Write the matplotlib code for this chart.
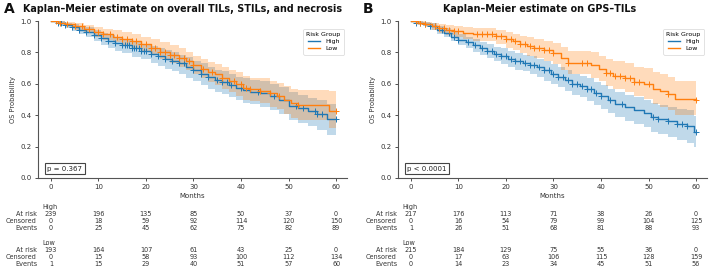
import numpy as np
import matplotlib
matplotlib.use("Agg")
import matplotlib.pyplot as plt
from matplotlib import transforms

# ---------------- data ----------------
months_ticks = [0, 10, 20, 30, 40, 50, 60]

# Panel A - High
tA_hi = [0, 1.5, 3, 4.5, 6, 7.5, 9, 10.5, 12, 13.5, 15, 17, 19, 21, 22.5, 24, 25.5, 27, 28.5, 30, 31.5,
         33, 34.5, 36, 37.5, 39, 40.5, 42, 44, 46, 48, 50, 52, 54, 56, 58]
sA_hi = [1.0, 0.99, 0.975, 0.96, 0.945, 0.93, 0.91, 0.89, 0.875, 0.86, 0.845, 0.825, 0.81, 0.79, 0.775,
         0.76, 0.745, 0.73, 0.71, 0.685, 0.665, 0.645, 0.625, 0.61, 0.59, 0.575, 0.56, 0.55, 0.54, 0.52,
         0.50, 0.46, 0.445, 0.425, 0.405, 0.375]
loA_hi = [1.0, 0.975, 0.955, 0.935, 0.915, 0.895, 0.87, 0.85, 0.83, 0.81, 0.795, 0.77, 0.755, 0.73, 0.715,
          0.695, 0.68, 0.66, 0.64, 0.615, 0.59, 0.57, 0.55, 0.535, 0.515, 0.495, 0.48, 0.47, 0.455, 0.435,
          0.41, 0.37, 0.35, 0.33, 0.305, 0.275]
upA_hi = [1.0, 0.997, 0.99, 0.98, 0.97, 0.96, 0.945, 0.925, 0.912, 0.9, 0.885, 0.87, 0.855, 0.84, 0.825,
          0.815, 0.8, 0.785, 0.77, 0.745, 0.73, 0.71, 0.69, 0.68, 0.66, 0.645, 0.635, 0.625, 0.615, 0.6,
          0.58, 0.545, 0.53, 0.51, 0.495, 0.47]
cA_hi = [1.5, 2.2, 3, 4.5, 6, 7.5, 9, 10.5, 12, 13.5, 15, 15.5, 16, 16.5, 17, 17.5, 18, 18.5, 19, 19.5, 20,
         21, 22.5, 24, 25.5, 27, 28, 30, 31.5, 33, 35, 36, 37, 38, 40, 43.5, 47, 51.5, 53, 55.5, 56, 57, 60]

# Panel A - Low
tA_lo = [0, 1.5, 3, 5, 7, 9, 11, 13, 15, 17, 19, 21, 23, 25, 27, 28.5, 30, 31.5, 33, 34.5, 36, 37.5, 39,
         40.5, 42, 44, 46, 47.5, 49, 50.5, 52, 58.5]
sA_lo = [1.0, 0.99, 0.98, 0.965, 0.95, 0.93, 0.915, 0.9, 0.885, 0.87, 0.855, 0.83, 0.805, 0.785, 0.765,
         0.745, 0.72, 0.695, 0.675, 0.66, 0.64, 0.615, 0.6, 0.575, 0.565, 0.555, 0.54, 0.525, 0.5, 0.475,
         0.465, 0.425]
loA_lo = [1.0, 0.98, 0.965, 0.945, 0.925, 0.9, 0.88, 0.865, 0.845, 0.83, 0.81, 0.785, 0.76, 0.735, 0.71,
          0.685, 0.66, 0.635, 0.61, 0.59, 0.57, 0.545, 0.525, 0.5, 0.49, 0.475, 0.455, 0.44, 0.41, 0.385,
          0.37, 0.32]
upA_lo = [1.0, 0.997, 0.992, 0.985, 0.975, 0.96, 0.95, 0.94, 0.93, 0.915, 0.9, 0.885, 0.865, 0.845, 0.825,
          0.805, 0.78, 0.76, 0.74, 0.725, 0.71, 0.69, 0.675, 0.65, 0.64, 0.635, 0.62, 0.605, 0.585, 0.565,
          0.56, 0.555]
cA_lo = [1, 2, 3.5, 5, 6.5, 8, 10, 11, 12.5, 14, 15, 16, 17, 18, 19, 20, 21, 22, 23, 24, 25, 26, 27, 28,
         29, 30, 32, 34, 36, 38.5, 40, 41, 42, 44, 46, 48, 52, 60]

# Panel B - High
tB_hi = [0, 1, 2.5, 4, 5.5, 7, 8.5, 10, 11.5, 13, 14.5, 16, 17.5, 19, 20.5, 22, 23.5, 25, 26.5, 28, 29.5,
         31, 32.5, 34, 35.5, 37, 38.5, 40, 41.5, 43, 45, 47, 49, 50.5, 52, 54, 56, 58, 59.5]
sB_hi = [1.0, 0.99, 0.98, 0.965, 0.945, 0.925, 0.9, 0.88, 0.865, 0.845, 0.825, 0.81, 0.79, 0.775, 0.76,
         0.745, 0.735, 0.72, 0.705, 0.685, 0.665, 0.645, 0.625, 0.6, 0.585, 0.565, 0.54, 0.52, 0.495, 0.47,
         0.45, 0.435, 0.415, 0.39, 0.375, 0.36, 0.345, 0.33, 0.295]
loB_hi = [1.0, 0.98, 0.965, 0.945, 0.92, 0.895, 0.87, 0.845, 0.83, 0.805, 0.785, 0.765, 0.745, 0.725, 0.71,
          0.69, 0.68, 0.66, 0.645, 0.62, 0.6, 0.58, 0.555, 0.53, 0.515, 0.49, 0.465, 0.44, 0.415, 0.39,
          0.365, 0.345, 0.325, 0.295, 0.28, 0.26, 0.245, 0.225, 0.195]
upB_hi = [1.0, 0.998, 0.993, 0.985, 0.97, 0.955, 0.935, 0.915, 0.9, 0.885, 0.865, 0.855, 0.835, 0.825, 0.81,
          0.795, 0.785, 0.775, 0.76, 0.745, 0.725, 0.71, 0.69, 0.665, 0.65, 0.635, 0.61, 0.595, 0.57, 0.55,
          0.53, 0.515, 0.5, 0.475, 0.465, 0.45, 0.44, 0.43, 0.395]
cB_hi = [1, 2, 3, 4, 5, 6.5, 8, 9, 10, 12, 13.5, 15, 16, 17, 18, 19, 20, 21, 22, 23, 24, 25, 26, 27, 28,
         29, 30, 31, 32, 33, 34, 35, 36, 37, 38, 39, 40, 42, 44.5, 51, 52, 54, 56, 57, 58, 60]

# Panel B - Low
tB_lo = [0, 1.5, 3, 4.5, 6, 7.5, 9, 11, 13, 15, 18, 20, 21.5, 23, 24.5, 26, 28, 30, 31.5, 33, 38, 39.5,
         41, 42.5, 45, 47, 49, 51, 52.5, 54, 55.5, 60]
sB_lo = [1.0, 0.99, 0.98, 0.97, 0.955, 0.945, 0.935, 0.925, 0.92, 0.915, 0.905, 0.885, 0.87, 0.855, 0.84,
         0.83, 0.815, 0.795, 0.765, 0.735, 0.72, 0.695, 0.67, 0.65, 0.64, 0.61, 0.6, 0.57, 0.555, 0.535,
         0.505, 0.495]
loB_lo = [1.0, 0.975, 0.96, 0.945, 0.925, 0.91, 0.9, 0.885, 0.875, 0.87, 0.855, 0.83, 0.815, 0.795, 0.78,
          0.765, 0.745, 0.725, 0.69, 0.66, 0.64, 0.615, 0.585, 0.565, 0.55, 0.52, 0.505, 0.47, 0.45, 0.43,
          0.4, 0.38]
upB_lo = [1.0, 0.998, 0.995, 0.99, 0.98, 0.975, 0.967, 0.96, 0.957, 0.953, 0.945, 0.93, 0.92, 0.905, 0.895,
          0.885, 0.875, 0.86, 0.835, 0.81, 0.8, 0.78, 0.76, 0.745, 0.735, 0.71, 0.7, 0.675, 0.66, 0.645,
          0.615, 0.605]
cB_lo = [1, 2, 3, 5, 6, 7, 8, 9, 10, 14, 15, 16, 17, 18, 19, 20, 21, 22, 23, 24, 25, 26, 27, 28, 29, 30,
         33, 36, 37, 41, 42, 43, 44, 45, 46, 47, 48, 50, 54, 60]

# risk tables
A_hi_risk = [239, 196, 135, 85, 50, 37, 0]
A_hi_cens = [0, 18, 59, 92, 114, 120, 150]
A_hi_evt = [0, 25, 45, 62, 75, 82, 89]
A_lo_risk = [193, 164, 107, 61, 43, 25, 0]
A_lo_cens = [0, 15, 58, 93, 100, 112, 134]
A_lo_evt = [1, 15, 29, 40, 51, 57, 60]

B_hi_risk = [217, 176, 113, 71, 38, 26, 0]
B_hi_cens = [0, 16, 54, 79, 99, 104, 125]
B_hi_evt = [1, 26, 51, 68, 81, 88, 93]
B_lo_risk = [215, 184, 129, 75, 55, 36, 0]
B_lo_cens = [0, 17, 63, 106, 115, 128, 159]
B_lo_evt = [0, 14, 23, 34, 45, 51, 56]

titles = ["Kaplan\u2013Meier estimate on overall TILs, STILs, and necrosis",
          "Kaplan\u2013Meier estimate on GPS\u2013TILs"]
letters = ["A", "B"]
pvals = ["p = 0.367", "p < 0.0001"]

BLUE = "#1f77b4"
ORANGE = "#ff7f0e"
W, H = 709, 269

fig = plt.figure(figsize=(W / 100, H / 100), dpi=100)
plt.rcParams['font.family'] = ['DejaVu Sans']


def km(ax, t, s, lo, up, cens, color, label):
    t = np.asarray(t, float); s = np.asarray(s, float)
    lo = np.asarray(lo, float); up = np.asarray(up, float)
    tt = np.append(t, 60.0)
    ss = np.append(s, s[-1])
    ll = np.append(lo, lo[-1]); uu = np.append(up, up[-1])
    ax.fill_between(tt, ll, uu, step='post', color=color, alpha=0.28, lw=0)
    ax.step(tt, ss, where='post', color=color, lw=1.0, label=label)
    c = np.asarray(cens, float)
    idx = np.searchsorted(t, c, side='right') - 1
    ax.plot(c, s[idx], ls='none', marker='+', ms=4.5, mew=0.7, color=color)


panels = [
    dict(left=38, hi=(tA_hi, sA_hi, loA_hi, upA_hi, cA_hi), lo=(tA_lo, sA_lo, loA_lo, upA_lo, cA_lo),
         tab=[("High", A_hi_risk, A_hi_cens, A_hi_evt), ("Low", A_lo_risk, A_lo_cens, A_lo_evt)],
         title_x=183, letter_x=4),
    dict(left=398, hi=(tB_hi, sB_hi, loB_hi, upB_hi, cB_hi), lo=(tB_lo, sB_lo, loB_lo, upB_lo, cB_lo),
         tab=[("High", B_hi_risk, B_hi_cens, B_hi_evt), ("Low", B_lo_risk, B_lo_cens, B_lo_evt)],
         title_x=540, letter_x=363),
]

for i, p in enumerate(panels):
    ax = fig.add_axes([p['left'] / W, 1 - 178 / H, 309 / W, 157 / H])
    km(ax, *p['hi'], BLUE, "High")
    km(ax, *p['lo'], ORANGE, "Low")
    ax.set_xlim(-2.7, 62.3)
    ax.set_ylim(0, 1.0)
    ax.set_xticks(months_ticks)
    ax.set_yticks([0.0, 0.2, 0.4, 0.6, 0.8, 1.0])
    ax.set_yticklabels(["0.0", "0.2", "0.4", "0.6", "0.8", "1.0"])
    for sp in ['top', 'right']:
        ax.spines[sp].set_visible(False)
    for sp in ['left', 'bottom']:
        ax.spines[sp].set_color('#555555')
        ax.spines[sp].set_linewidth(0.8)
    ax.tick_params(labelsize=5, length=2.5, width=0.6, colors='#333333', pad=2)
    ax.set_xlabel("Months", fontsize=5, color='#333333', labelpad=2)
    ax.set_ylabel("OS Probability", fontsize=4.8, color='#333333', labelpad=3)
    leg = ax.legend(title="Risk Group", loc='upper right', fontsize=4.5, title_fontsize=4.5,
                    frameon=True, handlelength=2.0, borderpad=0.5, labelspacing=0.3,
                    bbox_to_anchor=(1.0, 0.97))
    leg.get_frame().set_linewidth(0.5)
    leg.get_frame().set_edgecolor('#cccccc')
    ax.text(0.03, 0.04, pvals[i], transform=ax.transAxes, fontsize=5, color='#222222',
            ha='left', va='bottom',
            bbox=dict(boxstyle='square,pad=0.35', fc='white', ec='#444444', lw=0.8))

    fig.text(p['title_x'] / W, 1 - 9 / H, titles[i], fontsize=6.9, fontweight='bold',
             ha='center', va='center', color='#111111')
    fig.text(p['letter_x'] / W, 1 - 9 / H, letters[i], fontsize=10, fontweight='bold',
             ha='left', va='center', color='#111111')

    # risk table
    trans = transforms.blended_transform_factory(ax.transData, fig.transFigure)
    lab_x = (p['left'] - 1) / W
    ys_groups = [(207, 214, 221, 228), (243, 250, 257, 264)]
    for (gname, risk, cens, evt), ys in zip(p['tab'], ys_groups):
        fig.text(p['left'] / W + 4 / W, 1 - ys[0] / H, gname, fontsize=4.7, color='#333333',
                 ha='left', va='center')
        for rlabel, row, y in zip(["At risk", "Censored", "Events"], [risk, cens, evt], ys[1:]):
            fig.text(lab_x, 1 - y / H, rlabel, fontsize=4.7, color='#333333', ha='right', va='center')
            for xv, val in zip(months_ticks, row):
                ax.text(xv, 1 - y / H, str(val), transform=trans, fontsize=4.7, color='#333333',
                        ha='center', va='center')

fig.savefig("out.png", dpi=100)
